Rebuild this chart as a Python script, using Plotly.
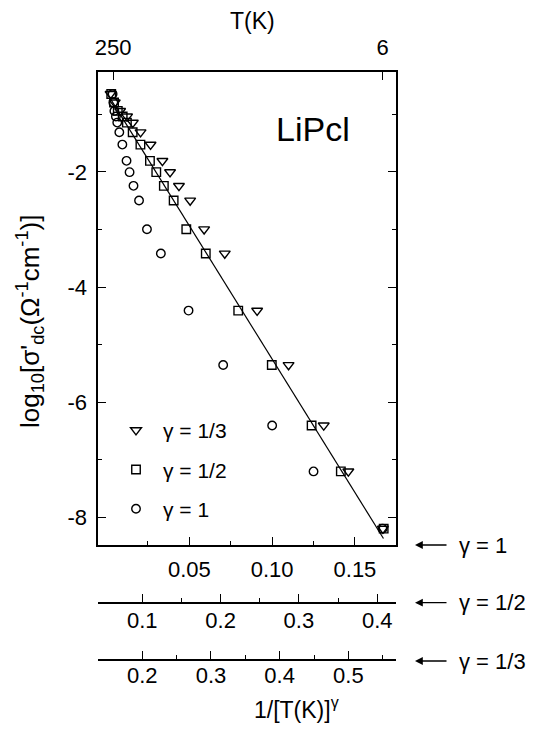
import plotly.graph_objects as go

# ---------------- data ----------------
T_K = [275, 245, 212, 178, 155, 130, 105, 83, 72, 61.5, 51, 41, 30.5, 20.2, 14.2, 10, 8, 6]
log_sigma = [-0.647, -0.795, -0.942, -1.038, -1.145, -1.312, -1.527, -1.809, -2.005,
             -2.243, -2.498, -2.997, -3.418, -4.410, -5.355, -6.404, -7.202, -8.196]
gammas = [1.0 / 3.0, 0.5, 1.0]
series_names = ["\u03b3 = 1/3", "\u03b3 = 1/2", "\u03b3 = 1"]
series_symbols = ["triangle-down-open", "square-open", "circle-open"]
series_axes = ["x4", "x3", "x"]

fit_slope = -21.9       # fit vs 1/T^(1/2)
fit_intercept = 0.569
fit_u = [0.06, 0.408]

top_T_ticks = [250, 6]
main_ticks = [0.05, 0.10, 0.15]
main_minor = [0.025, 0.075, 0.125]
half_ticks = [0.1, 0.2, 0.3, 0.4]
half_minor = [0.15, 0.25, 0.35]
third_ticks = [0.2, 0.3, 0.4, 0.5]
third_minor = [0.25, 0.35, 0.45, 0.55]

W, H = 541, 738
FONT = "Liberation Sans, Arial, sans-serif"
TICKSIZE = 22


def px(x):
    return x / W


def py(y):
    return 1 - y / H


fig = go.Figure()

for g, name, sym, ax in zip(gammas, series_names, series_symbols, series_axes):
    xs = [t ** (-g) for t in T_K]
    size = {"triangle-down-open": 9.5, "square-open": 8.5, "circle-open": 8.5}[sym]
    fig.add_trace(go.Scatter(
        x=xs, y=log_sigma, mode="markers", name=name, xaxis=ax, yaxis="y",
        legendgroup=name,
        marker=dict(symbol=sym, size=size, color="black", line=dict(width=1.4, color="black")),
    ))

fit_y = [fit_intercept + fit_slope * u for u in fit_u]
fig.add_trace(go.Scatter(x=fit_u, y=fit_y, mode="lines", xaxis="x3", yaxis="y",
                         line=dict(color="black", width=1.2), showlegend=False, hoverinfo="skip"))

# invisible trace so the top temperature axis is drawn
fig.add_trace(go.Scatter(x=[1.0 / t for t in T_K], y=log_sigma, mode="markers", xaxis="x2", yaxis="y",
                         marker=dict(opacity=0), showlegend=False, hoverinfo="skip"))

xdom = [px(98.3), px(396)]
ydom = [py(545), py(71.7)]

axis_common = dict(showgrid=False, zeroline=False, linecolor="black", linewidth=1.6,
                   ticks="inside", tickcolor="black", tickwidth=1.4, ticklen=8,
                   tickfont=dict(family=FONT, size=TICKSIZE, color="black"))
minor_common = dict(ticks="inside", ticklen=4, tickcolor="black", tickwidth=1.4)

fig.update_layout(
    width=W, height=H, margin=dict(l=0, r=0, t=0, b=0, autoexpand=False),
    plot_bgcolor="white", paper_bgcolor="white",
    font=dict(family=FONT, color="black"),
    xaxis=dict(domain=xdom, range=[-0.005, 0.1748], anchor="y", showline=True, mirror=True,
               tickvals=main_ticks, ticktext=["0.05", "0.10", "0.15"], ticklabelstandoff=4,
               minor=dict(tickvals=main_minor, **minor_common), **axis_common),
    xaxis2=dict(domain=xdom, range=[-0.005, 0.1748], overlaying="x", side="top", anchor="y",
                tickvals=[1.0 / t for t in top_T_ticks], ticktext=[str(t) for t in top_T_ticks],
                showline=False, ticklabelstandoff=11, **axis_common),
    xaxis3=dict(domain=xdom, range=[0.0438, 0.424], overlaying="x", anchor="free", position=py(602.7),
                showline=True, tickvals=half_ticks, ticktext=["0.1", "0.2", "0.3", "0.4"],
                ticklabelstandoff=-2, minor=dict(tickvals=half_minor, **minor_common), **axis_common),
    xaxis4=dict(domain=xdom, range=[0.1359, 0.5694], overlaying="x", anchor="free", position=py(660),
                showline=True, tickvals=third_ticks, ticktext=["0.2", "0.3", "0.4", "0.5"],
                ticklabelstandoff=-4, minor=dict(tickvals=third_minor, **minor_common), **axis_common),
    yaxis=dict(domain=ydom, range=[-8.48, -0.261], anchor="x", showline=True, mirror="ticks",
               tickvals=[-8, -6, -4, -2], ticktext=["-8", "-6", "-4", "-2"], ticklabelstandoff=5,
               minor=dict(tickvals=[-7, -5, -3, -1], **minor_common), **axis_common),
    legend=dict(x=px(109), y=py(410), xanchor="left", yanchor="top", bgcolor="rgba(0,0,0,0)",
                font=dict(family=FONT, size=21, color="black"), tracegroupgap=9, itemwidth=44),
)

annotations = [
    dict(text="T(K)", x=px(252), y=py(21), font=dict(size=23)),
    dict(text="LiPcl", x=px(313), y=py(129), font=dict(size=34)),
    dict(text="log<sub>10</sub>[\u03c3'<sub>dc</sub>(\u03a9<sup>-1</sup>cm<sup>-1</sup>)]",
         x=px(30), y=py(322), textangle=-90, font=dict(size=26)),
    dict(text="1/[T(K)]<sup>\u03b3</sup>", x=px(296), y=py(708), font=dict(size=23)),
]
for ypix, lab in [(545, "\u03b3 = 1"), (602.7, "\u03b3 = 1/2"), (661, "\u03b3 = 1/3")]:
    annotations.append(dict(text=lab, x=px(457), y=py(ypix), xanchor="left", font=dict(size=22)))
    annotations.append(dict(text="", x=px(415), y=py(ypix), ax=33, ay=0, showarrow=True,
                            arrowhead=2, arrowsize=1.2, arrowwidth=1.3, arrowcolor="black"))
for a in annotations:
    a.setdefault("xref", "paper")
    a.setdefault("yref", "paper")
    a.setdefault("showarrow", False)
    a.setdefault("xanchor", "center")
    a.setdefault("yanchor", "middle")
    a["font"] = dict(family=FONT, color="black", **a.get("font", {}))
fig.update_layout(annotations=annotations)

fig.write_html("out.html")
